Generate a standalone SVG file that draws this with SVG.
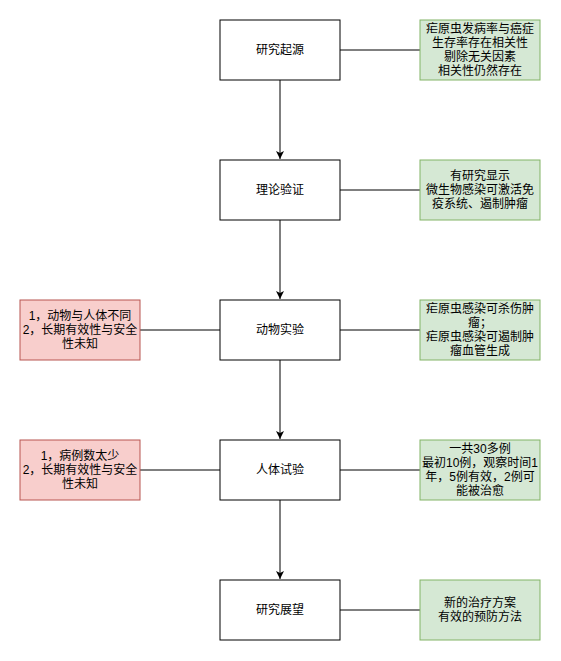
<svg xmlns="http://www.w3.org/2000/svg" width="561" height="661" viewBox="0 0 561 661">
<defs>
<style>
text{font-family:"Liberation Sans","Noto Sans CJK SC",sans-serif;font-size:12px;fill:#000;text-anchor:middle;dominant-baseline:central}
.main{fill:#fff;stroke:#000;stroke-width:1}
.green{fill:#d5e8d4;stroke:#82b366;stroke-width:1}
.red{fill:#f8cecc;stroke:#b85450;stroke-width:1}
.edge{stroke:#000;stroke-width:1;fill:none}
</style>
<marker id="arr" markerWidth="10" markerHeight="10" refX="8" refY="5" orient="auto" markerUnits="userSpaceOnUse">
<path d="M0,1 L8,5 L0,9 L2,5 Z" fill="#000"/>
</marker>
</defs>
<rect width="561" height="661" fill="#fff"/>
<g id="connectors">
<path class="edge" d="M280,80 V159" marker-end="url(#arr)"/>
<path class="edge" d="M280,220 V299" marker-end="url(#arr)"/>
<path class="edge" d="M280,360 V439" marker-end="url(#arr)"/>
<path class="edge" d="M280,500 V579" marker-end="url(#arr)"/>
<path class="edge" d="M340,50 H420"/>
<path class="edge" d="M340,190 H420"/>
<path class="edge" d="M340,330 H420"/>
<path class="edge" d="M340,470 H420"/>
<path class="edge" d="M340,610 H420"/>
<path class="edge" d="M140,330 H220"/>
<path class="edge" d="M140,470 H220"/>
</g>
<g id="n1"><rect class="main" x="220" y="20" width="120" height="60"/><text x="280" y="50">研究起源</text></g>
<g id="n2"><rect class="main" x="220" y="160" width="120" height="60"/><text x="280" y="190">理论验证</text></g>
<g id="n3"><rect class="main" x="220" y="300" width="120" height="60"/><text x="280" y="330">动物实验</text></g>
<g id="n4"><rect class="main" x="220" y="440" width="120" height="60"/><text x="280" y="470">人体试验</text></g>
<g id="n5"><rect class="main" x="220" y="580" width="120" height="60"/><text x="280" y="610">研究展望</text></g>
<g id="g1"><rect class="green" x="420" y="20" width="120" height="60"/>
<text x="480" y="29"><tspan x="480" dy="0">疟原虫发病率与癌症</tspan><tspan x="480" dy="14">生存率存在相关性</tspan><tspan x="480" dy="14">剔除无关因素</tspan><tspan x="480" dy="14">相关性仍然存在</tspan></text></g>
<g id="g2"><rect class="green" x="420" y="160" width="120" height="60"/>
<text x="480" y="176"><tspan x="480" dy="0">有研究显示</tspan><tspan x="480" dy="14">微生物感染可激活免</tspan><tspan x="480" dy="14">疫系统、遏制肿瘤</tspan></text></g>
<g id="g3"><rect class="green" x="420" y="300" width="120" height="60"/>
<text x="480" y="309"><tspan x="480" dy="0">疟原虫感染可杀伤肿</tspan><tspan x="480" dy="14">瘤；</tspan><tspan x="480" dy="14">疟原虫感染可遏制肿</tspan><tspan x="480" dy="14">瘤血管生成</tspan></text></g>
<g id="g4"><rect class="green" x="420" y="440" width="120" height="60"/>
<text x="480" y="449"><tspan x="480" dy="0">一共30多例</tspan><tspan x="480" dy="14">最初10例，观察时间1</tspan><tspan x="480" dy="14">年，5例有效，2例可</tspan><tspan x="480" dy="14">能被治愈</tspan></text></g>
<g id="g5"><rect class="green" x="420" y="580" width="120" height="60"/>
<text x="480" y="603"><tspan x="480" dy="0">新的治疗方案</tspan><tspan x="480" dy="14">有效的预防方法</tspan></text></g>
<g id="r1"><rect class="red" x="20" y="300" width="120" height="60"/>
<text x="80" y="316"><tspan x="80" dy="0">1，动物与人体不同</tspan><tspan x="80" dy="14">2，长期有效性与安全</tspan><tspan x="80" dy="14">性未知</tspan></text></g>
<g id="r2"><rect class="red" x="20" y="440" width="120" height="60"/>
<text x="80" y="456"><tspan x="80" dy="0">1，病例数太少</tspan><tspan x="80" dy="14">2，长期有效性与安全</tspan><tspan x="80" dy="14">性未知</tspan></text></g>
</svg>
